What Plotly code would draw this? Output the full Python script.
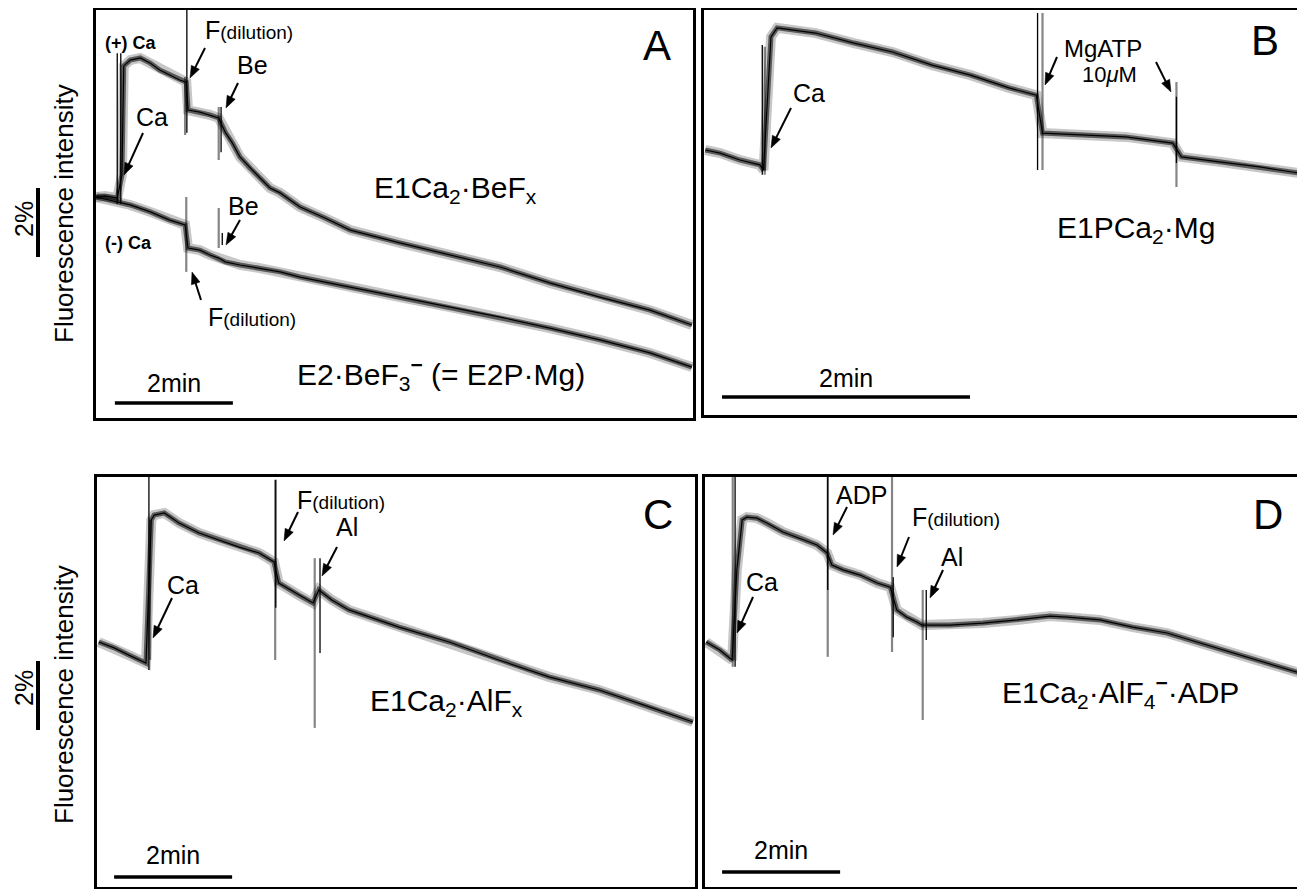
import math
import plotly.graph_objects as go

W, H = 1305, 889          # browser window
OFF = 8                   # default page margin around the plot div
WF, HF = W - OFF, H - OFF # figure size so that it fits in the window
FONT = "Liberation Sans, Arial, Helvetica, sans-serif"

# ---------------- DATA: time (min) vs fluorescence change (%) ----------------
# Panel A : (+) Ca trace and (-) Ca trace
a_pos_t = [0.00, 0.15, 0.36, 0.44, 0.47, 0.58, 0.75, 0.92, 1.08, 1.25, 1.42, 1.53,
           1.56, 1.76, 1.93, 2.08, 2.19, 2.31, 2.44, 2.61, 2.78, 2.95, 3.12, 3.29,
           3.46, 3.88, 4.31, 5.15, 6.00, 6.85, 7.69, 8.54, 9.39, 10.10]
a_pos_f = [0.00, 0.03, -0.03, 0.64, 3.80, 3.97, 4.03, 3.88, 3.68, 3.54, 3.39, 3.33,
           2.52, 2.46, 2.38, 2.29, 1.88, 1.57, 1.16, 0.84, 0.55, 0.26, 0.12, -0.09,
           -0.29, -0.61, -0.96, -1.33, -1.68, -2.03, -2.49, -2.90, -3.28, -3.71]
a_neg_t = [0.00, 0.24, 0.58, 0.92, 1.25, 1.51, 1.56, 1.76, 1.93, 2.08, 2.19, 2.44,
           2.78, 3.12, 3.46, 4.31, 5.15, 6.00, 6.85, 7.69, 8.54, 9.39, 10.10]
a_neg_f = [0.00, -0.09, -0.23, -0.43, -0.67, -0.81, -1.48, -1.54, -1.68, -1.77, -1.88, -1.97,
           -2.06, -2.17, -2.32, -2.61, -2.90, -3.19, -3.48, -3.80, -4.14, -4.52, -4.93]
# injection artefacts (time, upper end, lower end)
a_spk_dark_t = [0.36, 0.42, 1.54, 2.12, 2.14]
a_spk_dark_hi = [4.17, 4.17, 5.57, 2.61, -1.04]
a_spk_dark_lo = [-0.20, -0.20, 1.86, 1.30, -1.39]
a_spk_gray_t = [1.51, 2.08, 1.53, 2.08]
a_spk_gray_hi = [3.48, 2.61, 0.00, -0.32]
a_spk_gray_lo = [1.80, 1.07, -2.17, -1.48]

# Panel B
b_t = [0.01, 0.13, 0.29, 0.45, 0.48, 0.52, 0.54, 0.59, 0.90, 1.21, 1.52, 1.84,
       2.15, 2.46, 2.68, 2.73, 3.08, 3.40, 3.78, 3.85, 4.17, 4.48, 4.80]
b_f = [0.00, -0.09, -0.29, -0.43, -0.58, 2.03, 3.28, 3.54, 3.39, 3.10, 2.84, 2.46,
       2.17, 1.80, 1.59, 0.49, 0.43, 0.38, 0.20, -0.20, -0.35, -0.49, -0.67]
b_spk_dark_t = [0.47, 2.69, 3.81]
b_spk_dark_hi = [3.04, 3.97, 1.54]
b_spk_dark_lo = [-0.72, -0.58, -0.38]
b_spk_gray_t = [0.49, 2.73, 3.81]
b_spk_gray_hi = [2.99, 3.97, 1.97]
b_spk_gray_lo = [-0.72, -0.58, -1.07]

# Panel C
c_t = [0.03, 0.29, 0.54, 0.83, 0.92, 0.97, 1.14, 1.39, 1.73, 2.07, 2.41, 2.75, 3.00,
       3.08, 3.42, 3.66, 3.76, 3.98, 4.27, 5.12, 5.97, 6.81, 7.66, 8.51, 9.36, 10.10]
c_f = [0.00, -0.17, -0.38, -0.61, 3.54, 3.68, 3.74, 3.45, 3.16, 2.96, 2.75, 2.58, 2.32,
       1.71, 1.36, 1.13, 1.51, 1.22, 0.93, 0.43, 0.00, -0.52, -1.01, -1.39, -1.88, -2.32]
c_spk_dark_t = [0.88, 3.03, 3.78]
c_spk_dark_hi = [4.78, 4.70, 2.43]
c_spk_dark_lo = [-0.81, 0.99, -0.32]
c_spk_gray_t = [0.90, 3.02, 3.69]
c_spk_gray_hi = [3.54, 4.70, 2.43]
c_spk_gray_lo = [-0.52, -0.52, -2.49]

# Panel D
d_t = [0.02, 0.25, 0.46, 0.54, 0.63, 0.71, 0.88, 1.05, 1.32, 1.61, 1.90, 2.07, 2.15,
       2.34, 2.63, 2.92, 3.14, 3.25, 3.42, 3.59, 3.68, 3.81, 4.15, 4.71, 5.29, 5.85,
       6.14, 6.69, 7.25, 7.83, 8.39, 8.95, 9.53, 10.08]
d_f = [0.00, -0.23, -0.52, 2.09, 3.54, 3.62, 3.59, 3.45, 3.19, 3.01, 2.81, 2.58, 2.23,
       2.09, 1.94, 1.71, 1.59, 0.93, 0.72, 0.58, 0.49, 0.49, 0.49, 0.55, 0.64, 0.75,
       0.72, 0.64, 0.43, 0.26, -0.03, -0.32, -0.61, -0.90]
d_spk_dark_t = [0.51, 2.08, 3.19, 3.75]
d_spk_dark_hi = [4.78, 4.78, 1.88, 1.51]
d_spk_dark_lo = [-0.72, 1.51, 0.14, 0.06]
d_spk_gray_t = [0.47, 2.08, 3.17, 3.69]
d_spk_gray_hi = [4.78, 4.78, 4.78, 1.51]
d_spk_gray_lo = [-0.72, -0.43, -0.29, -2.26]

# ---------------- LAYOUT (pixel geometry of the panels in the window) ----------------
PANELS = {
    # box: left, right, top, bottom (px); scale px/min, px/%; px row of 0 %
    "A": dict(ax="", box=(96, 693, 5, 418), spm=59, spp=34.5, zero=197),
    "B": dict(ax="2", box=(704, 1301, 5, 415), spm=124, spp=34.5, zero=150),
    "C": dict(ax="3", box=(97, 695, 477, 887), spm=59, spp=34.5, zero=642),
    "D": dict(ax="4", box=(705, 1301, 477, 887), spm=59, spp=34.5, zero=642),
}


def segs(ts, his, los):
    xs, ys = [], []
    for t, h, l in zip(ts, his, los):
        xs += [t, t, None]
        ys += [h, l, None]
    return xs, ys


def pp(px, py):
    return (px - OFF) / WF, 1 - (py - OFF) / HF


fig = go.Figure()
layout = dict(width=WF, height=HF, margin=dict(l=0, r=0, t=0, b=0),
              paper_bgcolor="white", plot_bgcolor="white", showlegend=False,
              font=dict(family=FONT, color="black"))

for name, p in PANELS.items():
    L, R, T, B = p["box"]
    T = max(T, OFF + 1.5)
    sfx = p["ax"]
    ax_common = dict(showgrid=False, zeroline=False, showticklabels=False, ticks="",
                     showline=True, mirror=True, linecolor="black", linewidth=2.5,
                     fixedrange=True)
    x0, y1 = pp(L, T)
    x1, y0 = pp(R, B)
    layout["xaxis" + sfx] = dict(domain=[x0, x1], range=[0, (R - L) / p["spm"]],
                                 anchor="y" + sfx, **ax_common)
    layout["yaxis" + sfx] = dict(domain=[y0, y1],
                                 range=[(p["zero"] - B) / p["spp"], (p["zero"] - T) / p["spp"]],
                                 anchor="x" + sfx, **ax_common)

traces = {
    "A": [(a_pos_t, a_pos_f), (a_neg_t, a_neg_f)],
    "B": [(b_t, b_f)],
    "C": [(c_t, c_f)],
    "D": [(d_t, d_f)],
}
spikes = {
    "A": ((a_spk_dark_t, a_spk_dark_hi, a_spk_dark_lo), (a_spk_gray_t, a_spk_gray_hi, a_spk_gray_lo)),
    "B": ((b_spk_dark_t, b_spk_dark_hi, b_spk_dark_lo), (b_spk_gray_t, b_spk_gray_hi, b_spk_gray_lo)),
    "C": ((c_spk_dark_t, c_spk_dark_hi, c_spk_dark_lo), (c_spk_gray_t, c_spk_gray_hi, c_spk_gray_lo)),
    "D": ((d_spk_dark_t, d_spk_dark_hi, d_spk_dark_lo), (d_spk_gray_t, d_spk_gray_hi, d_spk_gray_lo)),
}

for name, p in PANELS.items():
    xa, ya = "x" + p["ax"], "y" + p["ax"]
    dark, gray = spikes[name]
    gx, gy = segs(*gray)
    fig.add_trace(go.Scatter(x=gx, y=gy, mode="lines", xaxis=xa, yaxis=ya,
                             line=dict(color="rgba(120,120,120,0.9)", width=2.2), hoverinfo="skip"))
    for t, f in traces[name]:
        # noise band drawn as layered strokes around the mean trace
        fig.add_trace(go.Scatter(x=t, y=f, mode="lines", xaxis=xa, yaxis=ya,
                                 line=dict(color="rgba(0,0,0,0.22)", width=10), hoverinfo="skip"))
        fig.add_trace(go.Scatter(x=t, y=f, mode="lines", xaxis=xa, yaxis=ya,
                                 line=dict(color="rgba(0,0,0,0.55)", width=5), hoverinfo="skip"))
        fig.add_trace(go.Scatter(x=t, y=f, mode="lines", xaxis=xa, yaxis=ya,
                                 line=dict(color="black", width=1.2), hoverinfo="skip"))
    dx, dy = segs(*dark)
    fig.add_trace(go.Scatter(x=dx, y=dy, mode="lines", xaxis=xa, yaxis=ya,
                             line=dict(color="black", width=1.3), hoverinfo="skip"))

# ---------------- scale bars ----------------
shapes = []
annotations = []
# 2 min bars: (panel, start time, level %), label level %
TIME_BARS = [("A", 0.32, -5.97, -5.39), ("B", 0.145, -7.16, -6.61),
             ("C", 0.29, -6.81, -6.17), ("D", 0.29, -6.67, -6.03)]
for name, t0, lev, lab in TIME_BARS:
    sfx = PANELS[name]["ax"]
    shapes.append(dict(type="line", xref="x" + sfx, yref="y" + sfx, x0=t0, x1=t0 + 2,
                       y0=lev, y1=lev, line=dict(color="black", width=3.5)))
    annotations.append(dict(xref="x" + sfx, yref="y" + sfx, x=t0 + 1, y=lab, text="2min",
                            showarrow=False, font=dict(size=25), xanchor="center", yanchor="middle"))

# 2 % vertical bars (row, bottom level %, px row of "2%" label, px row of axis title)
PCT_BARS = [("A", -1.74, 219, 214), ("C", -2.55, 688, 695)]
for name, lo, pct_py, title_py in PCT_BARS:
    sfx = PANELS[name]["ax"]
    bx, _ = pp(38, 0)
    shapes.append(dict(type="line", xref="paper", yref="y" + sfx, x0=bx, x1=bx,
                       y0=lo, y1=lo + 2, line=dict(color="black", width=4)))
    x, y = pp(24, pct_py)
    annotations.append(dict(xref="paper", yref="paper", x=x, y=y, text="2%", textangle=-90,
                            showarrow=False, font=dict(size=25), xanchor="center", yanchor="middle"))
    x, y = pp(64, title_py)
    annotations.append(dict(xref="paper", yref="paper", x=x, y=y, text="Fluorescence intensity",
                            textangle=-90, showarrow=False, font=dict(size=26),
                            xanchor="center", yanchor="middle"))

# ---------------- text labels ----------------
FD = "F<span style='font-size:19px'>(dilution)</span>"
MINUS = "<sup><b>\u2212</b></sup>"
LABELS = [
    ("A", 657, 45, 42), ("B", 1265, 40, 42), ("C", 658, 514, 42), ("D", 1268, 515, 42),
    ("<b>(+) Ca</b>", 131, 43, 18), ("<b>(-) Ca</b>", 128, 243, 18),
    ("Ca", 152, 117, 25), (FD, 249, 30, 25), ("Be", 252, 65, 25), ("Be", 243, 206, 25),
    (FD, 252, 317, 25),
    ("E1Ca<sub>2</sub>·BeF<sub>x</sub>", 455, 190, 30),
    ("E2·BeF<sub>3</sub>" + MINUS + " (= E2P·Mg)", 441, 374, 30),
    ("Ca", 809, 93, 25), ("MgATP", 1103, 48, 24), ("10<i>μ</i>M", 1109, 75, 22),
    ("E1PCa<sub>2</sub>·Mg", 1136, 230, 30),
    ("Ca", 183, 585, 25), (FD, 341, 500, 25), ("Al", 347, 527, 25),
    ("E1Ca<sub>2</sub>·AlF<sub>x</sub>", 446, 702, 30),
    ("Ca", 762, 582, 25), ("ADP", 861, 495, 25), (FD, 956, 517, 25), ("Al", 952, 557, 25),
    ("E1Ca<sub>2</sub>·AlF<sub>4</sub>" + MINUS + "·ADP", 1120, 692, 30),
]
for text, px, py, size in LABELS:
    x, y = pp(px, py)
    annotations.append(dict(xref="paper", yref="paper", x=x, y=y, text=text, showarrow=False,
                            font=dict(size=size), xanchor="center", yanchor="middle"))

# arrows: tail (px), tip (px) -> drawn as a line plus a filled triangular head
ARROWS = [
    ((143, 133), (124, 175)), ((205, 48), (190, 78)), ((238, 83), (226, 108)),
    ((240, 220), (226, 245)), ((201, 300), (192, 272)),
    ((791, 108), (771, 148)), ((1057, 57), (1045, 85)), ((1156, 62), (1171, 92)),
    ((172, 598), (153, 638)), ((298, 512), (284, 541)), ((337, 547), (322, 576)),
    ((753, 597), (737, 633)), ((847, 507), (833, 535)), ((909, 537), (897, 567)),
    ((943, 570), (930, 598)),
]
HEAD_LEN, HEAD_HALF = 12, 4.5
for (tx, ty), (hx, hy) in ARROWS:
    dx, dy = hx - tx, hy - ty
    n = math.hypot(dx, dy)
    ux, uy = dx / n, dy / n
    bxp, byp = hx - ux * HEAD_LEN, hy - uy * HEAD_LEN
    # shaft
    x0, y0 = pp(tx, ty)
    x1, y1 = pp(bxp + ux * 1.5, byp + uy * 1.5)
    shapes.append(dict(type="line", xref="paper", yref="paper", x0=x0, y0=y0, x1=x1, y1=y1,
                       line=dict(color="black", width=2)))
    # head
    p1 = pp(hx, hy)
    p2 = pp(bxp - uy * HEAD_HALF, byp + ux * HEAD_HALF)
    p3 = pp(bxp + uy * HEAD_HALF, byp - ux * HEAD_HALF)
    path = "M {:.5f} {:.5f} L {:.5f} {:.5f} L {:.5f} {:.5f} Z".format(*p1, *p2, *p3)
    shapes.append(dict(type="path", xref="paper", yref="paper", path=path,
                       fillcolor="black", line=dict(color="black", width=0.5)))

layout["shapes"] = shapes
layout["annotations"] = annotations
fig.update_layout(**layout)
fig.write_html("out.html")
